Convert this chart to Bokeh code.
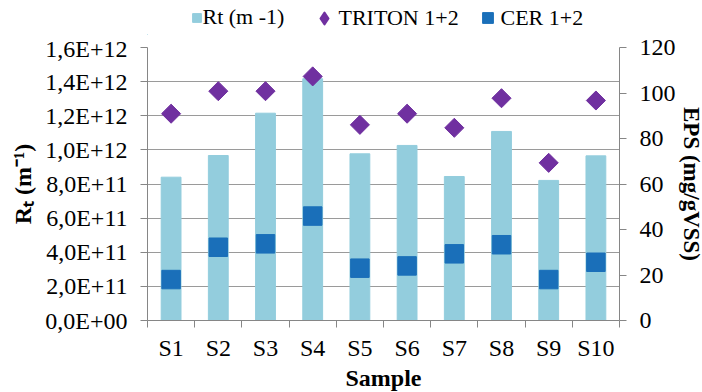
import numpy as np
from bokeh.plotting import figure
from bokeh.layouts import column
from bokeh.models import (Range1d, LinearAxis, FixedTicker, Legend,
                          LegendItem, ColumnDataSource)
from bokeh.embed import file_html
from bokeh.resources import INLINE

# ---------------- data ----------------
samples = ["S1", "S2", "S3", "S4", "S5", "S6", "S7", "S8", "S9", "S10"]
rt_values = [0.840e12, 0.967e12, 1.215e12, 1.417e12, 0.977e12,
             1.026e12, 0.844e12, 1.108e12, 0.821e12, 0.965e12]
triton_values = [90.9, 100.8, 100.8, 107.3, 86.0, 90.9, 84.7, 97.7, 69.3, 96.7]
cer_values = [18.0, 32.2, 33.7, 45.9, 23.0, 24.0, 29.3, 33.3, 18.0, 25.6]

rt_ticks = [0, 2e11, 4e11, 6e11, 8e11, 1.0e12, 1.2e12, 1.4e12, 1.6e12]
rt_tick_labels = ["0,0E+00", "2,0E+11", "4,0E+11", "6,0E+11", "8,0E+11",
                  "1,0E+12", "1,2E+12", "1,4E+12", "1,6E+12"]
eps_ticks = [0, 20, 40, 60, 80, 100, 120]

legend_labels = ["Rt (m -1)", "TRITON 1+2", "CER 1+2"]
x_title = "Sample"
left_title = "R\u209c (m\u207b\u00b9)"
right_title = "EPS (mg/gVSS)"

# ---------------- styles ----------------
BAR_C = "#93CDDD"
DIA_C = "#7030A0"
SQR_C = "#1A6FB9"
AX_C = "#868686"
GRID_C = "#9A9A9A"
FONT = "Liberation Serif"
TICK_FS = "24px"

n = len(samples)
xs = [i + 0.5 for i in range(n)]
bounds = list(range(n + 1))

TOTAL_W = 701
LEG_H = 35
FRAME_L, FRAME_T, FRAME_W, FRAME_H = 147, 47, 472, 273

# ---------------- main figure ----------------
src = ColumnDataSource(dict(x=xs, rt=rt_values, tri=triton_values, cer=cer_values))

p = figure(frame_width=FRAME_W, frame_height=FRAME_H,
           min_border_left=FRAME_L, min_border_top=FRAME_T - LEG_H,
           min_border_right=TOTAL_W - FRAME_L - FRAME_W, min_border_bottom=70,
           x_range=Range1d(0, n), y_range=Range1d(0, rt_ticks[-1]),
           output_backend="svg", toolbar_location=None,
           background_fill_color="white", border_fill_color="white")
p.outline_line_color = None
p.extra_y_ranges = {"eps": Range1d(0, eps_ticks[-1])}

p.vbar(x="x", top="rt", width=0.42, bottom=0, source=src,
       fill_color=BAR_C, line_color=BAR_C)
p.scatter(x="x", y="tri", source=src, marker="square", angle=np.pi / 4,
          size=13.5, fill_color=DIA_C, line_color=DIA_C, y_range_name="eps")
p.scatter(x="x", y="cer", source=src, marker="square", size=18.5,
          fill_color=SQR_C, line_color=SQR_C, y_range_name="eps")

xa = p.xaxis[0]
xa.ticker = FixedTicker(ticks=xs, minor_ticks=bounds)
xa.major_label_overrides = {x: s for x, s in zip(xs, samples)}
xa.major_tick_line_color = None
xa.major_tick_out = 7
xa.major_tick_in = 0
xa.minor_tick_out = 7
xa.minor_tick_in = 0
xa.minor_tick_line_color = AX_C
xa.axis_line_color = AX_C
xa.major_label_text_font = FONT
xa.major_label_text_font_size = TICK_FS
xa.major_label_text_color = "black"
xa.major_label_standoff = 7
xa.axis_label = x_title
xa.axis_label_text_font = FONT
xa.axis_label_text_font_size = "24px"
xa.axis_label_text_font_style = "bold"
xa.axis_label_text_color = "black"
xa.axis_label_standoff = 1

ya = p.yaxis[0]
yt = FixedTicker(ticks=rt_ticks, minor_ticks=[])
ya.ticker = yt
ya.major_label_overrides = {t: s for t, s in zip(rt_ticks, rt_tick_labels)}
ya.major_tick_out = 7
ya.major_tick_in = 0
ya.minor_tick_line_color = None
ya.major_tick_line_color = AX_C
ya.axis_line_color = AX_C
ya.major_label_text_font = FONT
ya.major_label_text_font_size = TICK_FS
ya.major_label_text_color = "black"
ya.major_label_standoff = 13
ya.axis_label = left_title
ya.axis_label_text_font = FONT
ya.axis_label_text_font_size = "24px"
ya.axis_label_text_font_style = "bold"
ya.axis_label_text_color = "black"
ya.axis_label_standoff = 6

ra = LinearAxis(y_range_name="eps", ticker=FixedTicker(ticks=eps_ticks, minor_ticks=[]))
ra.major_tick_out = 7
ra.major_tick_in = 0
ra.minor_tick_line_color = None
ra.major_tick_line_color = AX_C
ra.axis_line_color = AX_C
ra.major_label_text_font = FONT
ra.major_label_text_font_size = TICK_FS
ra.major_label_text_color = "black"
ra.major_label_standoff = 13
ra.axis_label = right_title
ra.axis_label_text_font = FONT
ra.axis_label_text_font_size = "23px"
ra.axis_label_text_font_style = "bold"
ra.axis_label_text_color = "black"
ra.axis_label_standoff = 0
p.add_layout(ra, "right")

p.xgrid.visible = False
p.ygrid.ticker = yt
p.ygrid.grid_line_color = GRID_C
p.ygrid.grid_line_width = 1

# ---------------- legend strip (own figure, real Legend objects) ----------------
# its frame is aligned with the main frame by the column layout
lf = figure(width=TOTAL_W, height=LEG_H, x_range=Range1d(0, TOTAL_W),
            y_range=Range1d(0, LEG_H), x_axis_type=None, y_axis_type=None,
            min_border=0, output_backend="svg", toolbar_location=None,
            background_fill_color="white", border_fill_color="white")
lf.outline_line_color = None
lf.grid.visible = False

# legend swatch renderers, positioned outside the strip's visible range
off = [-100]
r_bar = lf.vbar(x=off, top=[1], width=1, fill_color=BAR_C, line_color=BAR_C)
r_dia = lf.scatter(x=off, y=[1], marker="diamond", fill_color=DIA_C,
                   line_color=DIA_C, line_width=2, line_join="round")
r_sq = lf.scatter(x=off, y=[1], marker="square", fill_color=SQR_C, line_color=SQR_C)

def add_leg(label, rend, g, vx, vy, standoff):
    lg = Legend(items=[LegendItem(label=label, renderers=[rend])],
                location=(vx, vy), orientation="horizontal",
                glyph_width=g, glyph_height=g, label_standoff=standoff,
                label_height=g, padding=0, margin=0, spacing=0,
                border_line_color=None, background_fill_alpha=0,
                label_text_font=FONT, label_text_font_size="22px",
                label_text_color="black")
    lf.add_layout(lg, "center")

add_leg(legend_labels[0], r_bar, 11, 190.5 - FRAME_L, 5, 1)
add_leg(legend_labels[1], r_dia, 30, 308.5 - FRAME_L, 2.5, -7)
add_leg(legend_labels[2], r_sq, 27, 473.5 - FRAME_L, 4, -4)

layout = column(lf, p, spacing=0)
open("out.html", "w").write(file_html(layout, INLINE))
